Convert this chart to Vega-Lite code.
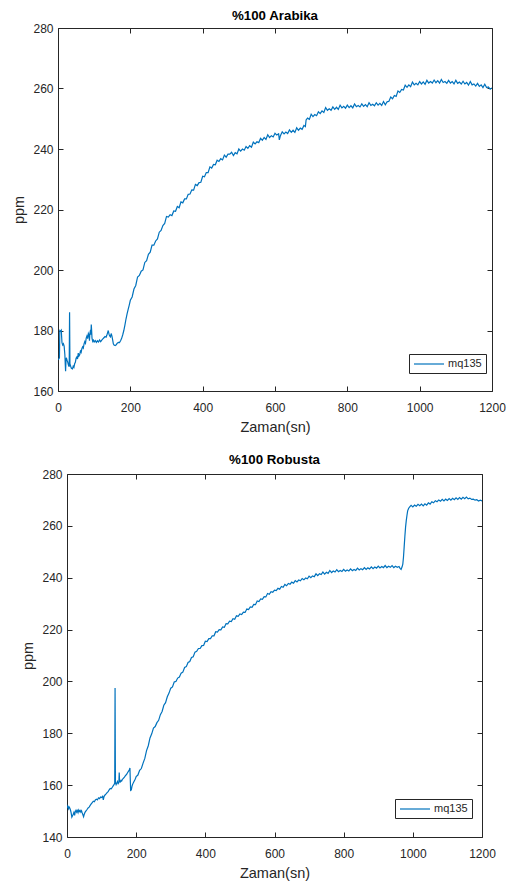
{
  "$schema": "https://vega.github.io/schema/vega-lite/v6.json",
  "padding": {"left": 11, "top": 8, "right": 5, "bottom": 2},
  "background": "white",
  "config": {
    "font": "Liberation Sans",
    "view": {"stroke": "#262626", "strokeWidth": 1},
    "axis": {"grid": false, "domain": false, "tickColor": "#262626", "tickSize": -5, "labelColor": "#262626", "labelFontSize": 12, "titleColor": "#262626", "titleFontSize": 14.5, "titleFontWeight": "normal", "labelFlush": false},
    "axisX": {"labelPadding": 16, "titlePadding": 7.5, "format": "d"},
    "axisY": {"labelPadding": 10, "titlePadding": 6},
    "title": {"fontSize": 13.3, "fontWeight": "bold", "color": "#000000", "offset": 2},
    "legend": {"title": null, "strokeColor": "#262626", "fillColor": "white", "padding": 4, "symbolType": "M-1,0H5", "symbolSize": 100, "symbolStrokeWidth": 1.2, "labelFontSize": 11, "labelColor": "#262626", "cornerRadius": 0, "labelOffset": 23}
  },
  "datasets": {
    "arabika": [
      {"t":0,"v":170.3},{"t":2,"v":170.6},{"t":4,"v":171},{"t":5,"v":180},{"t":7,"v":179.8},{"t":9,"v":180.1},{"t":10,"v":178},{"t":11,"v":176},{"t":13,"v":175.2},{"t":15,"v":175.6},{"t":17,"v":174.8},{"t":19,"v":172},{"t":20,"v":169},{"t":21,"v":166.5},{"t":22,"v":169.8},{"t":23,"v":171},{"t":25,"v":170.2},{"t":27,"v":169.5},{"t":29,"v":168.5},{"t":31,"v":168},{"t":32,"v":186},{"t":33,"v":169},{"t":35,"v":168.2},{"t":37,"v":167.5},{"t":40,"v":167.3},{"t":42,"v":168.2},{"t":44,"v":167.8},{"t":46,"v":169},{"t":48,"v":169.5},{"t":50,"v":170.8},{"t":52,"v":171.2},{"t":54,"v":170.6},{"t":56,"v":172.5},{"t":58,"v":171.6},{"t":60,"v":172},{"t":62,"v":173.2},{"t":64,"v":172.8},{"t":66,"v":174},{"t":68,"v":174.6},{"t":70,"v":174.2},{"t":72,"v":175.6},{"t":74,"v":176.3},{"t":76,"v":175.8},{"t":78,"v":177.5},{"t":80,"v":178.2},{"t":82,"v":177.3},{"t":84,"v":179},{"t":86,"v":178.4},{"t":87,"v":176.6},{"t":88,"v":178.8},{"t":90,"v":180.2},{"t":91,"v":178.6},{"t":92,"v":182},{"t":93,"v":180},{"t":94,"v":177.5},{"t":96,"v":176.4},{"t":98,"v":176.8},{"t":100,"v":176.2},{"t":103,"v":176.7},{"t":106,"v":176.1},{"t":109,"v":176.6},{"t":112,"v":176.2},{"t":115,"v":176.9},{"t":118,"v":176.3},{"t":121,"v":176.8},{"t":124,"v":177.2},{"t":127,"v":177.6},{"t":130,"v":178},{"t":133,"v":177.8},{"t":135,"v":178.4},{"t":137,"v":179.2},{"t":139,"v":180},{"t":141,"v":178.8},{"t":143,"v":178.2},{"t":145,"v":177.9},{"t":147,"v":179},{"t":149,"v":178.2},{"t":151,"v":177},{"t":153,"v":175.6},{"t":155,"v":175.2},{"t":158,"v":175},{"t":161,"v":175.3},{"t":164,"v":175.8},{"t":167,"v":176.1},{"t":170,"v":176},{"t":173,"v":176.6},{"t":176,"v":177.4},{"t":179,"v":178.6},{"t":182,"v":180},{"t":185,"v":181.8},{"t":188,"v":183.8},{"t":191,"v":185.5},{"t":194,"v":187},{"t":197,"v":188.4},
      {"t":200,"v":190.0},{"t":205,"v":191.1},{"t":210,"v":193.7},{"t":215,"v":194.9},{"t":220,"v":197.7},{"t":225,"v":198.2},{"t":230,"v":199.6},{"t":235,"v":200.0},{"t":240,"v":202.5},{"t":245,"v":203.1},{"t":250,"v":205.2},{"t":255,"v":205.9},{"t":260,"v":208.2},{"t":265,"v":208.2},{"t":270,"v":209.6},{"t":275,"v":210.3},{"t":280,"v":212.5},{"t":285,"v":213.1},{"t":290,"v":214.7},{"t":295,"v":215.4},{"t":300,"v":217.7},{"t":305,"v":217.5},{"t":310,"v":218.3},{"t":315,"v":218.0},{"t":320,"v":219.5},{"t":325,"v":219.4},{"t":330,"v":221.0},{"t":335,"v":220.6},{"t":340,"v":222.5},{"t":345,"v":222.2},{"t":350,"v":223.5},{"t":355,"v":223.5},{"t":360,"v":225.0},{"t":365,"v":225.1},{"t":370,"v":226.5},{"t":375,"v":226.4},{"t":380,"v":228.3},{"t":385,"v":227.9},{"t":390,"v":228.9},{"t":395,"v":229.0},{"t":400,"v":231.0},{"t":405,"v":230.8},{"t":410,"v":232.2},{"t":415,"v":232.2},{"t":420,"v":234.1},{"t":425,"v":233.7},{"t":430,"v":234.9},{"t":435,"v":234.8},{"t":440,"v":236.3},{"t":445,"v":235.9},{"t":450,"v":236.8},{"t":455,"v":236.4},{"t":460,"v":238.0},{"t":465,"v":237.3},{"t":470,"v":238.3},{"t":475,"v":238.3},{"t":480,"v":238.9},{"t":485,"v":237.8},{"t":490,"v":238.8},{"t":495,"v":238.4},{"t":500,"v":240.0},{"t":505,"v":239.3},{"t":510,"v":240.0},{"t":515,"v":239.6},{"t":520,"v":240.8},{"t":525,"v":240.2},{"t":530,"v":241.1},{"t":535,"v":240.6},{"t":540,"v":242.3},{"t":545,"v":241.7},{"t":550,"v":242.4},{"t":555,"v":242.1},{"t":560,"v":243.5},{"t":565,"v":242.9},{"t":570,"v":243.8},{"t":575,"v":243.2},{"t":580,"v":244.7},{"t":585,"v":243.8},{"t":590,"v":244.4},{"t":595,"v":244.0},{"t":600,"v":245.2},{"t":605,"v":244.6},{"t":610,"v":245.0},{"t":612,"v":243.0},{"t":615,"v":244.4},{"t":620,"v":245.7},{"t":625,"v":245.0},{"t":630,"v":245.6},{"t":635,"v":245.1},{"t":640,"v":246.3},{"t":645,"v":245.5},{"t":650,"v":246.2},{"t":655,"v":245.5},{"t":660,"v":247.0},{"t":665,"v":246.2},{"t":670,"v":246.9},{"t":675,"v":246.5},{"t":680,"v":247.8},{"t":684,"v":247.4},{"t":686,"v":249.6},{"t":690,"v":250.2},{"t":695,"v":249.8},{"t":700,"v":251.5},{"t":705,"v":250.7},{"t":710,"v":251.4},{"t":715,"v":251.0},{"t":720,"v":252.3},{"t":725,"v":251.7},{"t":730,"v":252.6},{"t":735,"v":252.1},{"t":740,"v":253.7},{"t":745,"v":252.8},{"t":750,"v":253.3},{"t":755,"v":252.8},{"t":760,"v":253.9},{"t":765,"v":253.1},{"t":770,"v":253.8},{"t":775,"v":253.1},{"t":780,"v":254.5},{"t":785,"v":253.6},{"t":790,"v":254.1},{"t":795,"v":253.5},{"t":800,"v":254.5},{"t":805,"v":253.7},{"t":810,"v":254.3},{"t":815,"v":253.6},{"t":820,"v":254.9},{"t":825,"v":254.0},{"t":830,"v":254.4},{"t":835,"v":253.9},{"t":840,"v":254.9},{"t":845,"v":254.1},{"t":850,"v":254.7},{"t":855,"v":254.0},{"t":860,"v":255.3},{"t":865,"v":254.4},{"t":870,"v":254.8},{"t":875,"v":254.3},{"t":880,"v":255.3},{"t":885,"v":254.5},{"t":890,"v":255.1},{"t":895,"v":254.4},{"t":900,"v":255.7},{"t":905,"v":254.6},{"t":910,"v":255.6},{"t":915,"v":255.8},{"t":920,"v":257.2},{"t":925,"v":256.6},{"t":930,"v":257.7},{"t":935,"v":257.4},{"t":940,"v":259.2},{"t":945,"v":258.7},{"t":950,"v":259.7},{"t":955,"v":259.5},{"t":960,"v":261.1},{"t":965,"v":260.4},{"t":970,"v":261.2},{"t":975,"v":260.6},{"t":980,"v":262.1},{"t":985,"v":261.2},{"t":990,"v":261.7},{"t":995,"v":261.2},{"t":1000,"v":262.3},{"t":1005,"v":261.5},{"t":1010,"v":262.2},{"t":1015,"v":261.4},{"t":1020,"v":262.7},{"t":1025,"v":261.8},{"t":1030,"v":262.3},{"t":1035,"v":261.8},{"t":1040,"v":262.8},{"t":1045,"v":261.9},{"t":1050,"v":262.6},{"t":1055,"v":261.8},{"t":1060,"v":263.0},{"t":1065,"v":262.0},{"t":1070,"v":262.3},{"t":1075,"v":261.7},{"t":1080,"v":262.7},{"t":1085,"v":261.8},{"t":1090,"v":262.3},{"t":1095,"v":261.5},{"t":1100,"v":262.7},{"t":1105,"v":261.7},{"t":1110,"v":262.1},{"t":1115,"v":261.5},{"t":1120,"v":262.4},{"t":1125,"v":261.5},{"t":1130,"v":262.0},{"t":1135,"v":261.1},{"t":1140,"v":262.3},{"t":1145,"v":261.2},{"t":1150,"v":261.5},{"t":1155,"v":260.8},{"t":1160,"v":261.7},{"t":1165,"v":260.7},{"t":1170,"v":261.2},{"t":1175,"v":260.3},{"t":1180,"v":261.4},{"t":1185,"v":260.3},{"t":1190,"v":260.5},{"t":1195,"v":259.8},{"t":1200,"v":260.2}
    ],
    "robusta": [
      {"t":0,"v":151.3},{"t":2,"v":151.9},{"t":4,"v":150.9},{"t":6,"v":151.6},{"t":8,"v":151.2},{"t":10,"v":150.4},{"t":12,"v":149.3},{"t":14,"v":147.7},{"t":16,"v":148.2},{"t":18,"v":148.8},{"t":20,"v":149.5},{"t":22,"v":148.3},{"t":24,"v":149.8},{"t":26,"v":150.3},{"t":28,"v":149.6},{"t":30,"v":150.2},{"t":32,"v":149.4},{"t":34,"v":150.4},{"t":36,"v":149.8},{"t":38,"v":150.2},{"t":40,"v":149.6},{"t":42,"v":150.1},{"t":44,"v":149.3},{"t":46,"v":148.6},{"t":48,"v":147.8},{"t":50,"v":148.8},{"t":52,"v":149.5},{"t":55,"v":150.1},{"t":58,"v":150.6},{"t":61,"v":151.2},{"t":64,"v":151.5},{"t":67,"v":152.2},{"t":70,"v":152.8},{"t":73,"v":153.3},{"t":76,"v":153.8},{"t":79,"v":153.6},{"t":82,"v":154.3},{"t":85,"v":154.6},{"t":88,"v":154.3},{"t":91,"v":155.1},{"t":94,"v":154.8},{"t":97,"v":155.4},{"t":100,"v":155.2},{"t":103,"v":155.7},{"t":105,"v":154.3},{"t":107,"v":155.6},{"t":110,"v":156.2},{"t":113,"v":156.6},{"t":116,"v":157.1},{"t":119,"v":157.5},{"t":122,"v":158.2},{"t":125,"v":158.7},{"t":128,"v":158.6},{"t":131,"v":159.2},{"t":134,"v":159.8},{"t":137,"v":160.4},{"t":138,"v":160.8},{"t":139,"v":197.5},{"t":140,"v":161},{"t":142,"v":160.2},{"t":144,"v":160.8},{"t":146,"v":161.4},{"t":148,"v":160.6},{"t":150,"v":161},{"t":151,"v":164.9},{"t":152,"v":161.5},{"t":154,"v":161.2},{"t":156,"v":161.8},{"t":158,"v":161.6},{"t":160,"v":162.2},{"t":163,"v":162.6},{"t":166,"v":163.1},{"t":169,"v":163.7},{"t":172,"v":164.1},{"t":175,"v":164.8},{"t":178,"v":165.4},{"t":180,"v":165.8},{"t":182,"v":166.6},{"t":183,"v":162},{"t":184,"v":158},{"t":186,"v":158.2},{"t":188,"v":159.6},{"t":190,"v":160.4},{"t":193,"v":161.2},{"t":196,"v":162},{"t":198,"v":162.6},
      {"t":200,"v":163.3},{"t":205,"v":163.9},{"t":210,"v":165.7},{"t":215,"v":166.4},{"t":220,"v":168.5},{"t":225,"v":170.3},{"t":230,"v":173.3},{"t":235,"v":175.2},{"t":240,"v":178.2},{"t":245,"v":179.8},{"t":250,"v":182.0},{"t":255,"v":182.6},{"t":260,"v":184.1},{"t":265,"v":185.0},{"t":270,"v":187.2},{"t":275,"v":188.4},{"t":280,"v":190.8},{"t":285,"v":191.8},{"t":290,"v":194.1},{"t":295,"v":195.5},{"t":300,"v":197.4},{"t":305,"v":197.9},{"t":310,"v":199.8},{"t":315,"v":200.0},{"t":320,"v":201.3},{"t":325,"v":201.7},{"t":330,"v":203.2},{"t":335,"v":203.6},{"t":340,"v":205.4},{"t":345,"v":205.7},{"t":350,"v":207.3},{"t":355,"v":207.7},{"t":360,"v":209.2},{"t":365,"v":209.5},{"t":370,"v":211.3},{"t":375,"v":211.6},{"t":380,"v":212.7},{"t":385,"v":212.7},{"t":390,"v":213.8},{"t":395,"v":213.9},{"t":400,"v":215.5},{"t":405,"v":215.4},{"t":410,"v":216.5},{"t":415,"v":216.5},{"t":420,"v":217.6},{"t":425,"v":217.6},{"t":430,"v":219.2},{"t":435,"v":219.0},{"t":440,"v":220.0},{"t":445,"v":219.9},{"t":450,"v":221.0},{"t":455,"v":220.9},{"t":460,"v":222.3},{"t":465,"v":222.2},{"t":470,"v":223.2},{"t":475,"v":223.1},{"t":480,"v":224.2},{"t":485,"v":224.0},{"t":490,"v":225.3},{"t":495,"v":225.1},{"t":500,"v":226.0},{"t":505,"v":225.8},{"t":510,"v":226.7},{"t":515,"v":226.6},{"t":520,"v":227.9},{"t":525,"v":227.7},{"t":530,"v":228.7},{"t":535,"v":228.6},{"t":540,"v":229.7},{"t":545,"v":229.6},{"t":550,"v":231.0},{"t":555,"v":230.8},{"t":560,"v":231.8},{"t":565,"v":231.7},{"t":570,"v":232.7},{"t":575,"v":232.6},{"t":580,"v":233.9},{"t":585,"v":233.6},{"t":590,"v":234.6},{"t":595,"v":234.4},{"t":600,"v":235.2},
      {"t":605,"v":235.0},{"t":610,"v":235.9},{"t":615,"v":235.6},{"t":620,"v":236.6},{"t":625,"v":236.3},{"t":630,"v":237.4},{"t":635,"v":236.9},{"t":640,"v":237.8},{"t":645,"v":237.5},{"t":650,"v":238.3},{"t":655,"v":237.9},{"t":660,"v":238.9},{"t":665,"v":238.4},{"t":670,"v":239.1},{"t":675,"v":238.8},{"t":680,"v":239.7},{"t":685,"v":239.2},{"t":690,"v":239.9},{"t":695,"v":239.6},{"t":700,"v":240.6},{"t":705,"v":240.0},{"t":710,"v":240.7},{"t":715,"v":240.4},{"t":720,"v":241.5},{"t":725,"v":240.8},{"t":730,"v":241.5},{"t":735,"v":241.2},{"t":740,"v":242.2},{"t":745,"v":241.4},{"t":750,"v":242.1},{"t":755,"v":241.7},{"t":760,"v":242.8},{"t":765,"v":242.0},{"t":770,"v":242.6},{"t":775,"v":242.2},{"t":780,"v":243.1},{"t":785,"v":242.3},{"t":790,"v":242.8},{"t":795,"v":242.4},{"t":800,"v":243.2},{"t":805,"v":242.5},{"t":810,"v":243.0},{"t":815,"v":242.6},{"t":820,"v":243.4},{"t":825,"v":242.7},{"t":830,"v":243.2},{"t":835,"v":242.8},{"t":840,"v":243.7},{"t":845,"v":243.0},{"t":850,"v":243.5},{"t":855,"v":243.1},{"t":860,"v":243.9},{"t":865,"v":243.2},{"t":870,"v":243.8},{"t":875,"v":243.4},{"t":880,"v":244.2},{"t":885,"v":243.5},{"t":890,"v":244.1},{"t":895,"v":243.7},{"t":900,"v":244.5},{"t":905,"v":243.8},{"t":910,"v":244.3},{"t":915,"v":243.9},{"t":920,"v":244.7},{"t":925,"v":243.9},{"t":930,"v":244.4},{"t":935,"v":244.0},{"t":940,"v":244.7},{"t":945,"v":243.9},{"t":950,"v":244.4},{"t":955,"v":244.0},{"t":960,"v":244.3},{"t":963,"v":243.6},{"t":966,"v":243.2},{"t":969,"v":244.2},{"t":971,"v":245.2},{"t":973,"v":248},{"t":975,"v":252},{"t":977,"v":256},{"t":979,"v":259.5},{"t":981,"v":262},{"t":983,"v":264},{"t":985,"v":265.8},{"t":988,"v":266.8},{"t":991,"v":267.3},{"t":995,"v":267.9},{"t":1000,"v":267.3},{"t":1005,"v":268.0},{"t":1010,"v":267.6},{"t":1015,"v":268.3},{"t":1020,"v":267.8},{"t":1025,"v":268.4},{"t":1030,"v":267.7},{"t":1035,"v":268.5},{"t":1040,"v":268.0},{"t":1045,"v":268.9},{"t":1050,"v":268.4},{"t":1055,"v":269.3},{"t":1060,"v":268.9},{"t":1065,"v":269.7},{"t":1070,"v":269.3},{"t":1075,"v":270.0},{"t":1080,"v":269.5},{"t":1085,"v":270.2},{"t":1090,"v":269.6},{"t":1095,"v":270.3},{"t":1100,"v":269.8},{"t":1105,"v":270.5},{"t":1110,"v":269.9},{"t":1115,"v":270.6},{"t":1120,"v":270.1},{"t":1125,"v":270.8},{"t":1130,"v":270.2},{"t":1135,"v":270.9},{"t":1140,"v":270.3},{"t":1145,"v":271.0},{"t":1150,"v":270.5},{"t":1155,"v":271.1},{"t":1160,"v":270.4},{"t":1165,"v":270.7},{"t":1170,"v":270.2},{"t":1175,"v":270.3},{"t":1180,"v":269.9},{"t":1185,"v":270.1},{"t":1190,"v":269.6},{"t":1195,"v":269.9},{"t":1200,"v":269.6}
    ]
  },
  "columns": 1,
  "spacing": 17,
  "resolve": {"scale": {"color": "independent"}, "legend": {"color": "independent"}},
  "concat": [
    {
      "title": {"text": "%100 Arabika", "offset": 0},
      "width": 434,
      "height": 363,
      "data": {"name": "arabika"},
      "layer": [
        {
          "mark": {"type": "line", "strokeWidth": 1.2, "clip": true},
          "encoding": {
            "x": {"field": "t", "type": "quantitative", "scale": {"domain": [0, 1200], "nice": false}, "axis": {"title": "Zaman(sn)", "values": [0, 200, 400, 600, 800, 1000, 1200]}},
            "y": {"field": "v", "type": "quantitative", "scale": {"domain": [160, 280], "nice": false, "zero": false}, "axis": {"title": "ppm", "values": [160, 180, 200, 220, 240, 260, 280]}},
            "color": {"datum": "mq135", "scale": {"range": ["#0072BD"]}, "legend": {"orient": "none", "legendX": 351, "legendY": 326}}
          }
        },
        {
          "mark": {"type": "line", "opacity": 0},
          "encoding": {
            "x": {"field": "t", "type": "quantitative", "axis": {"orient": "top", "labels": false, "title": null, "values": [0, 200, 400, 600, 800, 1000, 1200]}},
            "y": {"field": "v", "type": "quantitative", "axis": {"orient": "right", "labels": false, "title": null, "values": [160, 180, 200, 220, 240, 260, 280]}}
          }
        }
      ],
      "resolve": {"axis": {"x": "independent", "y": "independent"}}
    },
    {
      "spacing": -39,
      "hconcat": [
        {
          "width": 1,
          "height": 10,
          "view": {"stroke": null},
          "data": {"values": []},
          "mark": "point"
        },
        {
          "title": {"text": "%100 Robusta", "offset": 2},
          "width": 415,
          "height": 363,
          "data": {"name": "robusta"},
          "layer": [
            {
              "mark": {"type": "line", "strokeWidth": 1.2, "clip": true},
              "encoding": {
                "x": {"field": "t", "type": "quantitative", "scale": {"domain": [0, 1200], "nice": false}, "axis": {"title": "Zaman(sn)", "values": [0, 200, 400, 600, 800, 1000, 1200]}},
                "y": {"field": "v", "type": "quantitative", "scale": {"domain": [140, 280], "nice": false, "zero": false}, "axis": {"title": "ppm", "values": [140, 160, 180, 200, 220, 240, 260, 280]}},
                "color": {"datum": "mq135", "scale": {"range": ["#0072BD"]}, "legend": {"orient": "none", "legendX": 337, "legendY": 325}}
              }
            },
            {
              "mark": {"type": "line", "opacity": 0},
              "encoding": {
                "x": {"field": "t", "type": "quantitative", "axis": {"orient": "top", "labels": false, "title": null, "values": [0, 200, 400, 600, 800, 1000, 1200]}},
                "y": {"field": "v", "type": "quantitative", "axis": {"orient": "right", "labels": false, "title": null, "values": [140, 160, 180, 200, 220, 240, 260, 280]}}
              }
            }
          ],
          "resolve": {"axis": {"x": "independent", "y": "independent"}}
        }
      ]
    }
  ]
}
